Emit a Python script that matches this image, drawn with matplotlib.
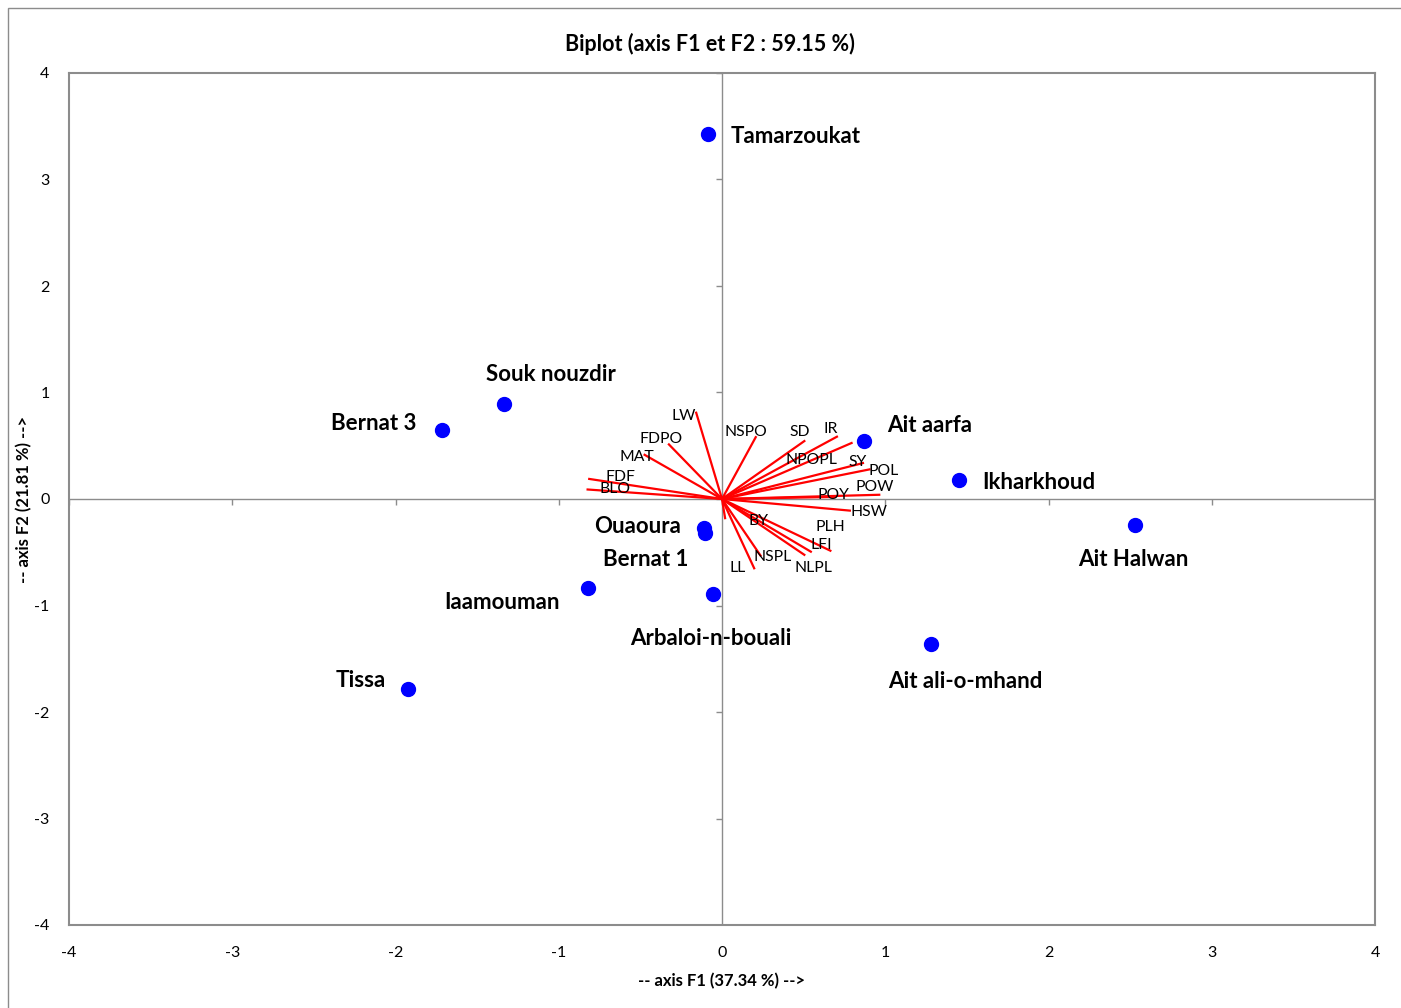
import matplotlib
matplotlib.use("Agg")
import matplotlib.pyplot as plt
from matplotlib.patches import Rectangle

plt.rcParams['font.family'] = ['Lato', 'DejaVu Sans']

# Observations (factor scores on F1 / F2)
sites = ["Tamarzoukat", "Souk nouzdir", "Bernat 3", "Ait aarfa", "Ikharkhoud",
         "Ait Halwan", "Ouaoura", "Bernat 1", "Iaamouman", "Arbaloi-n-bouali",
         "Ait ali-o-mhand", "Tissa"]
site_f1 = [-0.086, -1.335, -1.715, 0.87, 1.452, 2.53, -0.11, -0.104, -0.821, -0.055, 1.28, -1.923]
site_f2 = [3.43, 0.89, 0.65, 0.545, 0.178, -0.244, -0.27, -0.32, -0.836, -0.89, -1.36, -1.784]

# Variables (loadings on F1 / F2)
variables = ["LW", "FDPO", "MAT", "FDF", "BLO", "NSPO", "SD", "IR", "NPOPL", "SY",
             "POL", "POW", "POY", "HSW", "PLH", "LFI", "NLPL", "NSPL", "LL", "BY"]
var_f1 = [-0.16, -0.33, -0.48, -0.82, -0.83, 0.21, 0.51, 0.71, 0.80, 0.87,
          0.91, 0.97, 0.70, 0.79, 0.67, 0.55, 0.51, 0.24, 0.20, 0.02]
var_f2 = [0.82, 0.52, 0.42, 0.19, 0.09, 0.59, 0.55, 0.59, 0.53, 0.34,
          0.28, 0.04, 0.02, -0.11, -0.49, -0.50, -0.53, -0.54, -0.66, -0.19]

ticks = [-4, -3, -2, -1, 0, 1, 2, 3, 4]

# label placement (pixel offsets from the mark)
site_offsets = {
    "Tamarzoukat": (23, -3, "left"), "Souk nouzdir": (47, 30, "center"),
    "Bernat 3": (-26, 6, "right"), "Ait aarfa": (23, 15, "left"),
    "Ikharkhoud": (23, -2, "left"), "Ait Halwan": (-2, -35, "center"),
    "Ouaoura": (-23, 1, "right"), "Bernat 1": (-17, -26, "right"),
    "Iaamouman": (-28, -14, "right"), "Arbaloi-n-bouali": (-2, -45, "center"),
    "Ait ali-o-mhand": (34, -38, "center"), "Tissa": (-22, 8, "right"),
}
var_offsets = {
    "LW": (-12.6, -4.3), "FDPO": (-7.4, 4.3), "MAT": (-6.3, -2.4), "FDF": (32.6, 1.5),
    "BLO": (28.5, 0.7), "NSPO": (-10.6, 4.5), "SD": (-6, 8.7), "IR": (-6.9, 6.9),
    "NPOPL": (-40.9, -17.4), "SY": (-6.7, 1.1), "POL": (12.7, -1.8), "POW": (-5.4, 8),
    "POY": (-3, 1.9), "HSW": (18, -1.6), "PLH": (-1.4, 23.9), "LFI": (9.9, 7.3),
    "NLPL": (8, -12.9), "NSPL": (11.5, -0.8), "LL": (-17.4, 1), "BY": (33.4, -1.5),
}

W, H = 1401, 1008
fig = plt.figure(figsize=(W / 100, H / 100), dpi=100)
fig.patches.append(Rectangle((8 / W, -0.1), 1.2, (H - 8) / H + 0.1, transform=fig.transFigure,
                             fill=False, edgecolor="#8c8c8c", linewidth=1.0))

ax = fig.add_axes([69 / W, 1 - 925 / H, (1375 - 69) / W, (925 - 73) / H])
ax.set_xlim(-4, 4)
ax.set_ylim(-4, 4)
for s in ax.spines.values():
    s.set_color("#8c8c8c")
    s.set_linewidth(1.5)
ax.set_xticks(ticks)
ax.set_yticks(ticks)
ax.set_xticklabels([str(t) for t in ticks])
ax.set_yticklabels([str(t) for t in ticks])
ax.tick_params(length=0, labelsize=11.5, colors="black")
ax.tick_params(axis="x", pad=15)
ax.tick_params(axis="y", pad=14)

# zero axes with their tick marks
ax.axhline(0, color="#8c8c8c", linewidth=1.0, zorder=1)
ax.axvline(0, color="#8c8c8c", linewidth=1.0, zorder=1)
ax.plot(ticks, [0] * len(ticks), linestyle="none", marker=3, markersize=4,
        color="#8c8c8c", markeredgewidth=1.0, zorder=1)
ax.plot([0] * len(ticks), ticks, linestyle="none", marker=0, markersize=4,
        color="#8c8c8c", markeredgewidth=1.0, zorder=1)

# variable vectors
for name, x, y in zip(variables, var_f1, var_f2):
    ax.plot([0, x], [0, y], color="red", linewidth=1.6, zorder=2, solid_capstyle="butt")
    dx, dy = var_offsets[name]
    ax.annotate(name, (x, y), xytext=(dx, dy), textcoords="offset pixels",
                ha="center", va="center", fontsize=11.3, color="black", zorder=4)

# observations
ax.plot(site_f1, site_f2, linestyle="none", marker="o", markersize=10,
        color="#0000ff", zorder=3)
for name, x, y in zip(sites, site_f1, site_f2):
    dx, dy, ha = site_offsets[name]
    ax.annotate(name, (x, y), xytext=(dx, dy), textcoords="offset pixels",
                ha=ha, va="center", fontsize=16, fontweight="bold", color="black", zorder=4)

fig.text(710 / W, 1 - 44 / H, "Biplot (axis F1 et F2 : 59.15 %)", ha="center", va="center",
         fontsize=15.5, fontweight="bold")
fig.text(722 / W, 1 - 981 / H, "-- axis F1 (37.34 %) -->", ha="center", va="center",
         fontsize=12, fontweight="bold")
fig.text(24 / W, 1 - 499 / H, "-- axis F2 (21.81 %) -->", ha="center", va="center",
         rotation=90, fontsize=12, fontweight="bold")

fig.savefig("out.png", dpi=100)
